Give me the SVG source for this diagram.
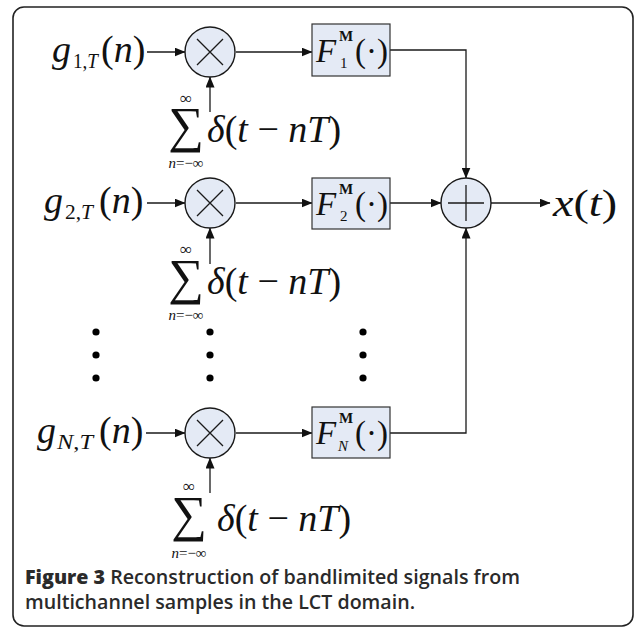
<svg xmlns="http://www.w3.org/2000/svg" width="635" height="629" viewBox="0 0 635 629">
<defs>
<marker id="ah" markerWidth="11" markerHeight="9" refX="10.5" refY="4.5" orient="auto" markerUnits="userSpaceOnUse">
<path d="M0,0 L11,4.5 L0,9 z" fill="#111"/>
</marker>
</defs>
<style>
.op{fill:#e4eaf5;stroke:#1a1a1a;stroke-width:1.4}
.bx{fill:#e4eaf5;stroke:#333;stroke-width:1.2}
.ar{fill:none;stroke:#1a1a1a;stroke-width:1.3;marker-end:url(#ah)}
.sym{stroke:#1a1a1a;stroke-width:1.3}
.m{font-family:"Liberation Serif","Times New Roman",serif;font-size:38px;fill:#111}
.f{font-family:"Liberation Serif","Times New Roman",serif;font-size:33px;fill:#111}
.s{font-family:"Liberation Serif","Times New Roman",serif;font-size:21px;fill:#111}
.ss{font-family:"Liberation Serif","Times New Roman",serif;font-size:15px;fill:#111}
.inf{font-family:"Liberation Serif","Times New Roman",serif;font-size:17px;fill:#111}
.sum{font-family:"Liberation Serif","Times New Roman",serif;font-size:50px;fill:#111}
.i{font-style:italic}
.b{font-weight:bold}
.cap{font-family:"Open Sans","Liberation Sans",sans-serif;font-size:19px;font-weight:600;fill:#2a2a2a}
.dot{fill:#000}
</style>
<rect x="13" y="7" width="620" height="619" rx="11" fill="#fff" stroke="#222" stroke-width="1.6"/>

<g id="connectors">
<line class="ar" x1="147" y1="52" x2="185" y2="52"/>
<line class="ar" x1="147" y1="203" x2="185" y2="203"/>
<line class="ar" x1="146" y1="433" x2="185" y2="433"/>
<line class="ar" x1="236" y1="52" x2="312" y2="52"/>
<line class="ar" x1="236" y1="203" x2="312" y2="203"/>
<line class="ar" x1="236" y1="433" x2="312" y2="433"/>
<line class="ar" x1="210" y1="112" x2="210" y2="77"/>
<line class="ar" x1="210" y1="264" x2="210" y2="228"/>
<line class="ar" x1="210" y1="493" x2="210" y2="458"/>
<polyline class="ar" points="390,50 466,50 466,178"/>
<line class="ar" x1="390" y1="203" x2="441" y2="203"/>
<polyline class="ar" points="390,433 466,433 466,228"/>
<line class="ar" x1="491" y1="203" x2="550" y2="203"/>
</g>

<g id="mult1"><circle class="op" cx="210" cy="52" r="25"/><path class="sym" d="M197,39 L223,65 M223,39 L197,65"/></g>
<g id="mult2"><circle class="op" cx="210" cy="203" r="25"/><path class="sym" d="M197,190 L223,216 M223,190 L197,216"/></g>
<g id="multN"><circle class="op" cx="210" cy="433" r="25"/><path class="sym" d="M197,420 L223,446 M223,420 L197,446"/></g>
<g id="adder"><circle class="op" cx="466" cy="203" r="25"/><path class="sym" d="M466,185 L466,221 M448,203 L484,203"/></g>

<g id="box1"><rect class="bx" x="312" y="24" width="78" height="52"/>
<text class="f i" x="316" y="62">F</text><text class="ss b" x="339" y="41" font-size="17px">M</text><text class="ss" x="340" y="68">1</text><text class="f" x="355" y="62">(·)</text></g>
<g id="box2"><rect class="bx" x="312" y="178" width="78" height="51"/>
<text class="f i" x="316" y="215">F</text><text class="ss b" x="339" y="194" font-size="17px">M</text><text class="ss" x="340" y="221">2</text><text class="f" x="355" y="215">(·)</text></g>
<g id="boxN"><rect class="bx" x="312" y="407" width="78" height="51"/>
<text class="f i" x="316" y="444">F</text><text class="ss b" x="339" y="423" font-size="17px">M</text><text class="ss i" x="338" y="451">N</text><text class="f" x="355" y="444">(·)</text></g>

<g id="in1"><text class="m i" x="52" y="62">g</text><text class="s" x="73" y="68" textLength="25" lengthAdjust="spacingAndGlyphs">1,<tspan class="i">T</tspan></text><text class="m" x="101" y="62">(<tspan class="i">n</tspan>)</text></g>
<g id="in2"><text class="m i" x="44" y="213">g</text><text class="s" x="65" y="219" textLength="28" lengthAdjust="spacingAndGlyphs">2,<tspan class="i">T</tspan></text><text class="m" x="99" y="213">(<tspan class="i">n</tspan>)</text></g>
<g id="inN"><text class="m i" x="37" y="443">g</text><text class="s i" x="57" y="449" textLength="36" lengthAdjust="spacingAndGlyphs">N<tspan font-style="normal">,</tspan>T</text><text class="m" x="99" y="443">(<tspan class="i">n</tspan>)</text></g>

<g id="sum1"><text class="inf" x="186" y="104" text-anchor="middle">∞</text><text class="sum" x="186" y="142" text-anchor="middle">∑</text><text class="m" x="207" y="142"><tspan class="i">δ</tspan>(<tspan class="i">t</tspan> − <tspan class="i">nT</tspan>)</text><text class="ss" x="186" y="168" text-anchor="middle" font-size="16px"><tspan class="i">n</tspan>=−∞</text></g>
<g id="sum2"><text class="inf" x="186" y="255" text-anchor="middle">∞</text><text class="sum" x="186" y="294" text-anchor="middle">∑</text><text class="m" x="207" y="294"><tspan class="i">δ</tspan>(<tspan class="i">t</tspan> − <tspan class="i">nT</tspan>)</text><text class="ss" x="186" y="320" text-anchor="middle" font-size="16px"><tspan class="i">n</tspan>=−∞</text></g>
<g id="sumN"><text class="inf" x="189" y="492" text-anchor="middle">∞</text><text class="sum" x="189" y="531" text-anchor="middle">∑</text><text class="m" x="217" y="531"><tspan class="i">δ</tspan>(<tspan class="i">t</tspan> − <tspan class="i">nT</tspan>)</text><text class="ss" x="189" y="558" text-anchor="middle" font-size="16px"><tspan class="i">n</tspan>=−∞</text></g>

<g id="output"><text class="m" x="553" y="216" textLength="64" lengthAdjust="spacingAndGlyphs"><tspan class="i">x</tspan>(<tspan class="i">t</tspan>)</text></g>

<g id="dots">
<circle class="dot" cx="96" cy="332" r="3.6"/><circle class="dot" cx="96" cy="355" r="3.6"/><circle class="dot" cx="96" cy="378" r="3.6"/>
<circle class="dot" cx="210" cy="332" r="3.6"/><circle class="dot" cx="210" cy="355" r="3.6"/><circle class="dot" cx="210" cy="378" r="3.6"/>
<circle class="dot" cx="363" cy="332" r="3.6"/><circle class="dot" cx="363" cy="355" r="3.6"/><circle class="dot" cx="363" cy="378" r="3.6"/>
</g>

<g id="caption">
<text class="cap" x="25" y="584" textLength="495" lengthAdjust="spacingAndGlyphs"><tspan font-weight="800">Figure 3</tspan> Reconstruction of bandlimited signals from</text>
<text class="cap" x="25" y="609" textLength="390" lengthAdjust="spacingAndGlyphs">multichannel samples in the LCT domain.</text>
</g>
</svg>
